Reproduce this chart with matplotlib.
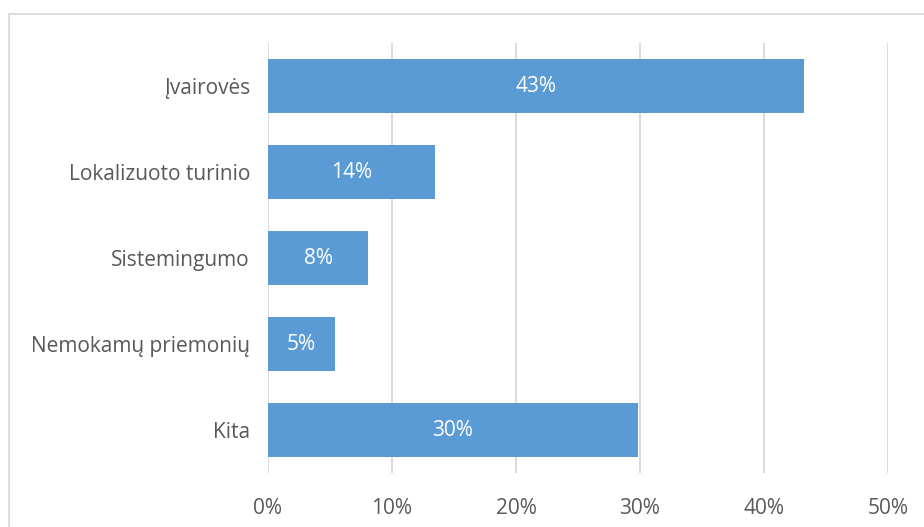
import matplotlib
matplotlib.use('Agg')
import matplotlib.pyplot as plt
from matplotlib.patches import Rectangle

plt.rcParams['font.family'] = ['Open Sans', 'DejaVu Sans']

categories = ['Įvairovės', 'Lokalizuoto turinio', 'Sistemingumo', 'Nemokamų priemonių', 'Kita']
values = [43.2, 13.5, 8.1, 5.4, 29.8]
value_labels = ['43%', '14%', '8%', '5%', '30%']
xticks = [0, 10, 20, 30, 40, 50]

text_col = '#595959'
bar_col = '#5B9BD5'
grid_col = '#D9D9D9'

fig = plt.figure(figsize=(9.24, 5.27), dpi=100)
ax = fig.add_axes([268 / 924, 1 - 473 / 527, 620 / 924, 430 / 527])

ypos = list(range(len(categories)))
bars = ax.barh(ypos, values, height=0.63, color=bar_col, zorder=3)
for b, lab in zip(bars, value_labels):
    ax.text(b.get_width() / 2, b.get_y() + b.get_height() / 2, lab,
            ha='center', va='center', color='white', fontsize=15, zorder=4)

ax.set_xlim(0, 50)
ax.set_ylim(len(categories) - 0.5, -0.5)
ax.set_yticks(ypos)
ax.set_yticklabels(categories)
ax.set_xticks(xticks)
ax.set_xticklabels([f'{t}%' for t in xticks])
ax.tick_params(axis='both', length=0, labelsize=15, colors=text_col)
ax.tick_params(axis='y', pad=13)
ax.tick_params(axis='x', pad=18)
ax.xaxis.grid(True, color=grid_col, linewidth=1.3, zorder=0)
for s in ax.spines.values():
    s.set_visible(False)

# chart frame
frame = Rectangle((8.5 / 924, -0.1), 1.2, 1 - 13.5 / 527 + 0.1, transform=fig.transFigure,
                  fill=False, edgecolor=grid_col, linewidth=1.3, clip_on=False)
fig.patches.append(frame)

fig.savefig('out.png', dpi=100)
